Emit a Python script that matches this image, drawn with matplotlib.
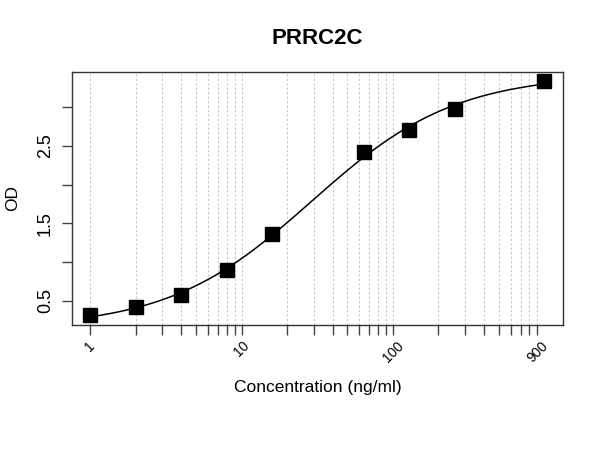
import numpy as np
import matplotlib
matplotlib.use('Agg')
import matplotlib.pyplot as plt

plt.rcParams['font.family'] = ['Liberation Sans', 'DejaVu Sans']

# данные стандартной кривой
conc = [1, 2, 4, 8, 16, 64, 128, 256, 1000]
od = [0.315, 0.42, 0.575, 0.90, 1.365, 2.42, 2.70, 2.98, 3.34]

x_ticks = [1, 2, 3, 4, 5, 6, 7, 8, 9,
           10, 20, 30, 40, 50, 60, 70, 80, 90,
           100, 200, 300, 400, 500, 600, 700, 800, 900]
x_labels = {1: '1', 10: '10', 100: '100', 900: '900'}
y_ticks = [0.5, 1.0, 1.5, 2.0, 2.5, 3.0]
y_labels = {0.5: '0.5', 1.5: '1.5', 2.5: '2.5'}


def four_pl(x, p):
    a, d, logc, b = p
    return d + (a - d) / (1 + (x / np.exp(logc)) ** b)


# подгонка 4PL (Левенберг-Марквардт на numpy)
xd = np.array(conc, dtype=float)
yd = np.array(od)
p = np.array([0.2, 3.6, np.log(30.0), 1.0])
lam = 1e-3
for _ in range(300):
    r = yd - four_pl(xd, p)
    J = np.zeros((len(xd), 4))
    for k in range(4):
        dp = np.zeros(4)
        dp[k] = 1e-6
        J[:, k] = (four_pl(xd, p + dp) - four_pl(xd, p)) / 1e-6
    H = J.T @ J
    step = np.linalg.solve(H + lam * np.diag(np.diag(H)), J.T @ r)
    p_new = p + step
    if np.sum((yd - four_pl(xd, p_new)) ** 2) < np.sum(r ** 2):
        p = p_new
        lam *= 0.5
    else:
        lam *= 4

xs = np.logspace(np.log10(min(conc)), np.log10(max(conc)), 300)

fig = plt.figure(figsize=(6, 4.5), dpi=100)
ax = fig.add_axes([0.12, 0.278, 0.818, 0.563])

ax.plot(xs, four_pl(xs, p), color='black', lw=1.1)
ax.plot(conc, od, 's', color='black', markersize=9.5)

ax.set_xscale('log')
ax.set_xlim(0.757, 1328)
ax.set_ylim(0.19, 3.46)

ax.set_xticks(x_ticks)
ax.set_xticklabels([x_labels.get(t, '') for t in x_ticks], rotation=45,
                   fontsize=10, ha='center', va='top')
ax.xaxis.set_minor_locator(matplotlib.ticker.NullLocator())
ax.set_yticks(y_ticks)
ax.set_yticklabels([y_labels.get(t, '') for t in y_ticks], rotation=90,
                   fontsize=13, va='center')

ax.tick_params(axis='both', length=7, width=1, color='#444444')
ax.tick_params(axis='x', pad=3)
ax.tick_params(axis='y', pad=6)

ax.grid(True, axis='x', color='#c4c4c4', linestyle=(0, (2, 2)), lw=0.8)
ax.set_axisbelow(True)
for s in ax.spines.values():
    s.set_color('#333333')
    s.set_linewidth(1.0)

ax.set_xlabel('Concentration (ng/ml)', fontsize=12.5, labelpad=11)
ax.set_ylabel('OD', fontsize=12.5, labelpad=12)
ax.set_title('PRRC2C', fontsize=16, fontweight='bold', pad=20)

fig.savefig('out.png')
